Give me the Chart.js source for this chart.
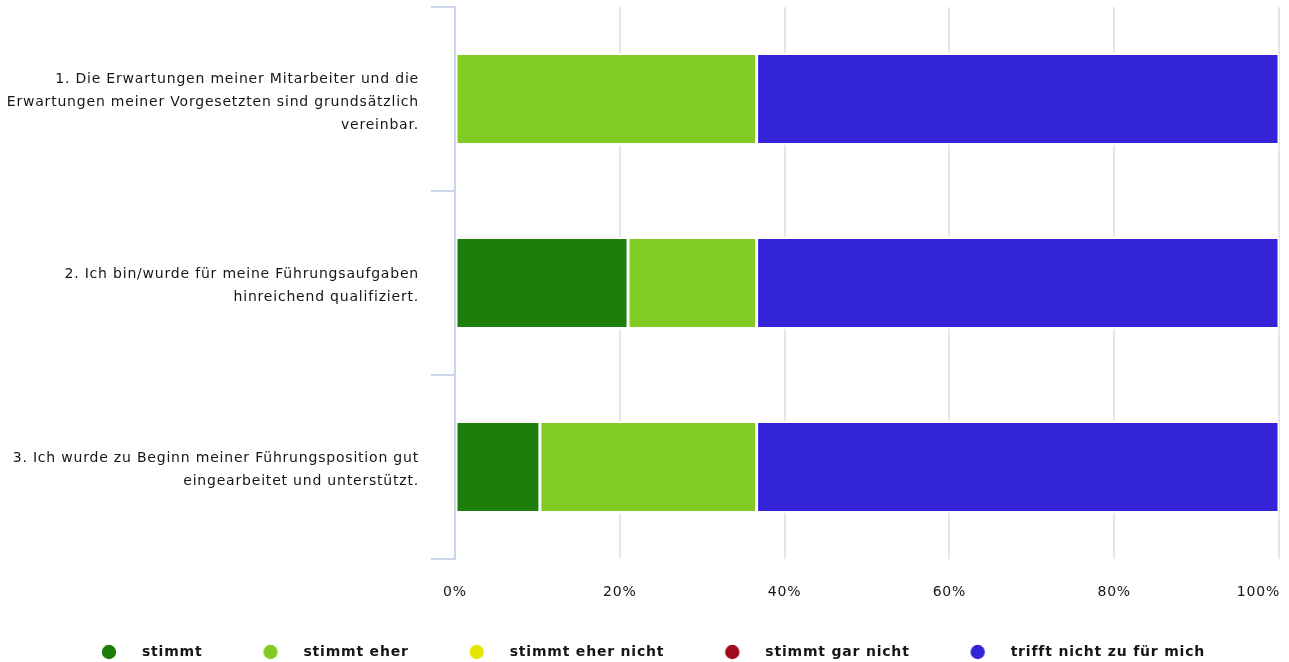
<!DOCTYPE html>
<html>
<head>
<meta charset="utf-8">
<script src="https://cdn.jsdelivr.net/npm/chart.js@4.4.1/dist/chart.umd.min.js"></script>
<style>
  html, body { margin: 0; padding: 0; background: #ffffff; }
  canvas { display: block; }
</style>
</head>
<body>
<canvas id="c" width="1289" height="662"></canvas>
<script>
// ---- data ----
const categories = [
  ["1. Die Erwartungen meiner Mitarbeiter und die", "Erwartungen meiner Vorgesetzten sind grundsätzlich", "vereinbar."],
  ["2. Ich bin/wurde für meine Führungsaufgaben", "hinreichend qualifiziert."],
  ["3. Ich wurde zu Beginn meiner Führungsposition gut", "eingearbeitet und unterstützt."]
];
const seriesNames = ["stimmt", "stimmt eher", "stimmt eher nicht", "stimmt gar nicht", "trifft nicht zu für mich"];
const stimmt          = [0, 21.0, 10.3];
const stimmtEher      = [36.6, 15.6, 26.3];
const stimmtEherNicht = [0, 0, 0];
const stimmtGarNicht  = [0, 0, 0];
const trifftNicht     = [63.4, 63.4, 63.4];
const tickValues = [0, 20, 40, 60, 80, 100];
const tickLabels = ["0%", "20%", "40%", "60%", "80%", "100%"];

// ---- styles ----
const colors = ["#1e7e0a", "#80cc22", "#e6e600", "#a00a1a", "#3324d8"];
const FONT = "'DejaVu Sans', 'Liberation Sans', sans-serif";
const FSIZE = 14;
const SPACING = "0.8px";
const TEXT = "#161616";

// legend marker image: circle placed inside a wider box
const LEG_PAD = 4;
const CIRCLE_X = 64;
const LEG_W = 90;
function markerFor(color) {
  const c = document.createElement('canvas');
  c.width = LEG_W; c.height = 16;
  const g = c.getContext('2d');
  g.fillStyle = color;
  g.beginPath();
  g.arc(CIRCLE_X, 8, 7.2, 0, Math.PI * 2);
  g.fill();
  return c;
}
const markers = colors.map(markerFor);

const spacingPlugin = {
  id: 'spacing',
  beforeUpdate(chart) { chart.ctx.letterSpacing = SPACING; },
  beforeLayout(chart) { chart.ctx.letterSpacing = SPACING; },
  afterLayout(chart) {
    const L = chart.legend;
    if (L) {
      const d = (CIRCLE_X - 7) / 2 - 14;
      L.left -= d; L.right -= d;
      L.top += 7; L.bottom += 7;
    }
  },
  beforeDraw(chart) {
    chart.ctx.letterSpacing = SPACING;
    // right-align the last x tick label so it stays inside the canvas
    const s = chart.scales.x;
    const items = s.getLabelItems();
    if (items.length) {
      const last = items[items.length - 1];
      last.options.textAlign = 'right';
      last.options.translation[0] = s.right + 1;
    }
  }
};

const allSeries = [stimmt, stimmtEher, stimmtEherNicht, stimmtGarNicht, trifftNicht];
const datasets = allSeries.map((vals, i) => ({
  label: seriesNames[i],
  data: vals,
  backgroundColor: colors[i],
  borderColor: '#ffffff',
  borderWidth: { top: 2, bottom: 2, left: 1.5, right: 1.5 },
  borderSkipped: false,
  barPercentage: 0.5,
  categoryPercentage: 1.0
}));

new Chart(document.getElementById('c'), {
  type: 'bar',
  data: { labels: categories, datasets },
  plugins: [spacingPlugin],
  options: {
    indexAxis: 'y',
    responsive: false,
    devicePixelRatio: 1,
    animation: false,
    layout: { padding: { top: 7, right: 10, left: 0, bottom: 0 } },
    scales: {
      x: {
        stacked: true,
        min: 0, max: 100,
        afterBuildTicks(s) { s.ticks = tickValues.map(v => ({ value: v })); },
        ticks: {
          callback: (v) => tickLabels[tickValues.indexOf(v)],
          padding: 25,
          color: TEXT,
          font: { family: FONT, size: FSIZE }
        },
        grid: { color: '#e6e6e6', lineWidth: 2, drawTicks: false },
        border: { display: false },
        afterFit(s) { s.paddingRight = 0; s.paddingLeft = 0; s.height = 103 - s.chart.legend.height; }
      },
      y: {
        stacked: true,
        offset: true,
        grid: { offset: true, drawOnChartArea: false, drawTicks: true, tickLength: 24, color: '#ccd6eb', lineWidth: 2 },
        border: { display: true, color: '#ccd6eb', width: 2 },
        ticks: {
          padding: 12,
          labelOffset: 3,
          color: TEXT,
          font: { family: FONT, size: FSIZE, lineHeight: '23px' }
        },
        afterFit(s) { s.width = 455; s.paddingTop = 0; s.paddingBottom = 0; }
      }
    },
    plugins: {
      tooltip: { enabled: false },
      legend: {
        position: 'bottom',
        labels: {
          usePointStyle: true,
          pointStyleWidth: LEG_W,
          boxHeight: FSIZE,
          padding: LEG_PAD,
          color: TEXT,
          font: { family: FONT, size: FSIZE, weight: 'bold' },
          generateLabels(chart) {
            const items = Chart.defaults.plugins.legend.labels.generateLabels(chart);
            items.forEach((it, i) => { it.pointStyle = markers[i]; });
            return items;
          }
        }
      }
    }
  }
});
</script>
</body>
</html>
